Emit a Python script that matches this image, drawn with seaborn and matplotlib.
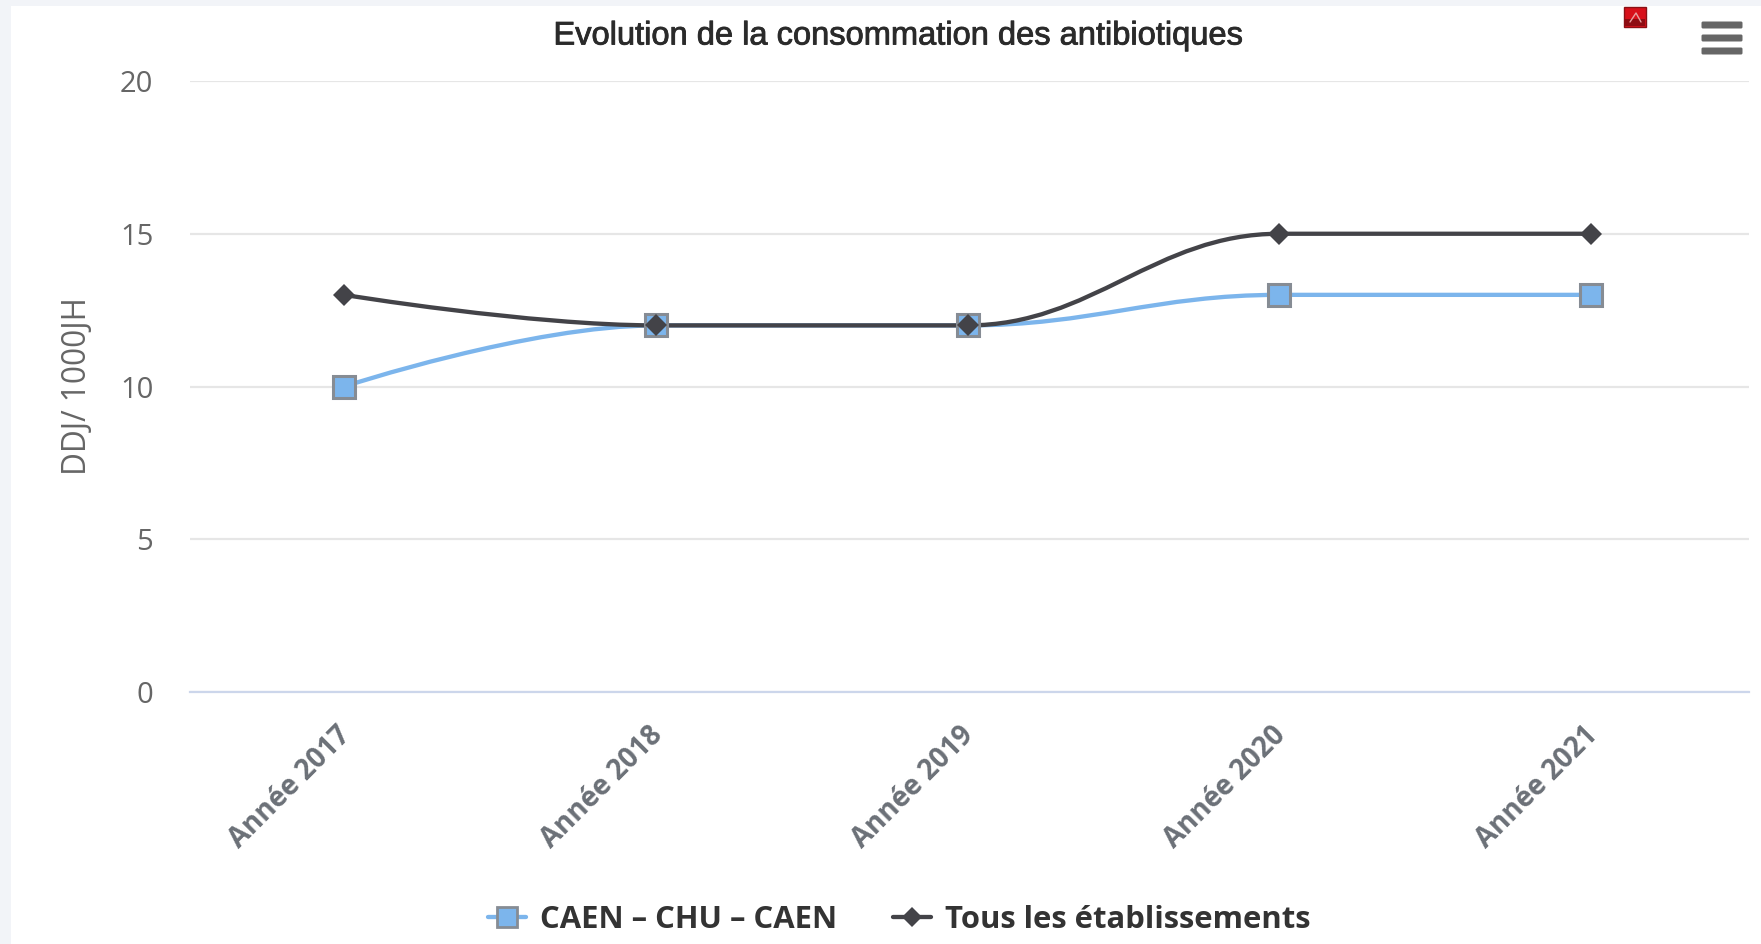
import matplotlib
matplotlib.use("Agg")
import matplotlib.pyplot as plt
import matplotlib.patheffects as pe
from matplotlib.lines import Line2D
from matplotlib.patches import PathPatch, Rectangle, FancyBboxPatch
from matplotlib.path import Path
from matplotlib.transforms import ScaledTranslation
import pandas as pd
import seaborn as sns

# Data
annees = ["Année 2017", "Année 2018", "Année 2019", "Année 2020", "Année 2021"]
caen = [10, 12, 12, 13, 13]
tous = [13, 12, 12, 15, 15]
yticks = [0, 5, 10, 15, 20]

BLUE = "#7cb5ec"
DARK = "#434348"
W, H = 1761, 944

sns.set_theme(style="white")
plt.rcParams["font.family"] = ["Open Sans", "DejaVu Sans"]

df = pd.DataFrame({
    "annee": annees * 2,
    "pos": list(range(len(annees))) * 2,
    "ddj": caen + tous,
    "serie": ["CAEN - CHU - CAEN"] * 5 + ["Tous les établissements"] * 5,
})


def spline_path(ys):
    # same smoothing as a Highcharts spline series
    xs = list(range(len(ys)))
    verts = [(xs[0], ys[0])]
    codes = [Path.MOVETO]
    ctrl = []
    for i in range(len(xs)):
        if i == 0 or i == len(xs) - 1:
            ctrl.append(((xs[i], ys[i]), (xs[i], ys[i])))
            continue
        lx = (1.5 * xs[i] + xs[i - 1]) / 2.5
        ly = (1.5 * ys[i] + ys[i - 1]) / 2.5
        rx = (1.5 * xs[i] + xs[i + 1]) / 2.5
        ry = (1.5 * ys[i] + ys[i + 1]) / 2.5
        corr = (ry - ly) * (rx - xs[i]) / (rx - lx) + ys[i] - ry
        ly += corr
        ry += corr
        if ly > max(ys[i - 1], ys[i]):
            ly = max(ys[i - 1], ys[i])
            ry = 2 * ys[i] - ly
        elif ly < min(ys[i - 1], ys[i]):
            ly = min(ys[i - 1], ys[i])
            ry = 2 * ys[i] - ly
        if ry > max(ys[i + 1], ys[i]):
            ry = max(ys[i + 1], ys[i])
            ly = 2 * ys[i] - ry
        elif ry < min(ys[i + 1], ys[i]):
            ry = min(ys[i + 1], ys[i])
            ly = 2 * ys[i] - ry
        ctrl.append(((lx, ly), (rx, ry)))
    for i in range(1, len(xs)):
        verts += [ctrl[i - 1][1], ctrl[i][0], (xs[i], ys[i])]
        codes += [Path.CURVE4] * 3
    return Path(verts, codes)


fig = plt.figure(figsize=(W / 100, H / 100), dpi=100, facecolor="white")
ax = fig.add_axes([190 / W, 1 - 692 / H, (1749 - 190) / W, (692 - 81) / H])

# Smooth lines
ax.add_patch(PathPatch(spline_path(caen), fc="none", ec=BLUE, lw=3.1, zorder=2))
ax.add_patch(PathPatch(spline_path(tous), fc="none", ec=DARK, lw=3.1, zorder=3))

# Markers
sns.lineplot(data=df[df.serie.str.startswith("CAEN")], x="pos", y="ddj", ax=ax,
             color=BLUE, linewidth=0, marker="s", markersize=15.5,
             markeredgecolor="#868c94", markeredgewidth=2.2, legend=False, zorder=4)
sns.lineplot(data=df[df.serie.str.startswith("Tous")], x="pos", y="ddj", ax=ax,
             color=DARK, linewidth=0, marker="D", markersize=11,
             markeredgecolor=DARK, markeredgewidth=0, legend=False, zorder=5)

ax.set_xlim(-0.494, 4.506)
ax.set_ylim(0, 20)
ax.set_yticks(yticks)
ax.set_xticks(range(len(annees)))
ax.set_xticklabels(annees, rotation=45, ha="right", rotation_mode="anchor",
                   fontsize=20, fontweight="bold", color="#6b7077")
ax.tick_params(axis="x", length=0, pad=21)
ax.tick_params(axis="y", length=0, pad=26.5, labelsize=21, labelcolor="#666666")
shift = ScaledTranslation(-8 / 100, 0, fig.dpi_scale_trans)
for lab in ax.get_xticklabels():
    lab.set_transform(lab.get_transform() + shift)
ax.yaxis.grid(True, color="#e6e6e6", lw=1.6)
ax.set_axisbelow(True)
ax.xaxis.grid(False)
for s in ["top", "right", "left"]:
    ax.spines[s].set_visible(False)
ax.spines["bottom"].set_color("#ccd6eb")
ax.spines["bottom"].set_linewidth(1.6)
ax.set_xlabel("")
ax.set_ylabel("")

# Pixel overlay for title, axis title and the page furniture
ov = fig.add_axes([0, 0, 1, 1], zorder=10)
ov.set_xlim(0, W)
ov.set_ylim(H, 0)
ov.axis("off")
ov.patch.set_alpha(0)

ov.add_patch(Rectangle((0, 0), W, 6, fc="#f2f4f8", ec="none"))
ov.add_patch(Rectangle((0, 0), 11, H, fc="#f2f4f8", ec="none"))

title = ov.text(898, 36, "Evolution de la consommation des antibiotiques", ha="center",
                va="center", fontsize=23.5, family="Liberation Sans", color="#2a2a2a")
title.set_path_effects([pe.withStroke(linewidth=0.6, foreground="#2a2a2a")])
ov.text(78, 386, "DDJ/ 1000JH", rotation=90, ha="center", va="center",
        fontsize=22.7, color="#666666")

# pdf icon
ov.add_patch(Rectangle((1624, 7), 22, 20, fc="#d8101a", ec="#8a1015", lw=1))
ov.add_patch(Rectangle((1625, 19), 20, 7, fc="#8e0c12", ec="none"))
ov.plot([1630, 1636, 1641], [22, 13, 22], color="#e8a0a0", lw=1)
# menu icon
for y in (25, 38, 51):
    ov.add_patch(FancyBboxPatch((1703, y - 2), 38, 4, boxstyle="round,pad=1.5",
                                fc="#666666", ec="none"))

handles = [
    Line2D([], [], color=BLUE, lw=3.1, marker="s", markersize=14,
           markerfacecolor=BLUE, markeredgecolor="#868c94", markeredgewidth=2),
    Line2D([], [], color=DARK, lw=3.1, marker="D", markersize=10.5, markeredgewidth=0),
]
leg = ov.legend(handles, ["CAEN – CHU – CAEN", "Tous les établissements"],
                loc="center", bbox_to_anchor=(899 / W, 1 - 920 / H),
                bbox_transform=fig.transFigure, ncol=2, frameon=False,
                handlelength=1.25, handletextpad=0.43, columnspacing=1.8,
                prop={"family": "Open Sans", "weight": "bold", "size": 22.3})
for t in leg.get_texts():
    t.set_color("#333333")

fig.savefig("out.png", dpi=100, facecolor="white")
